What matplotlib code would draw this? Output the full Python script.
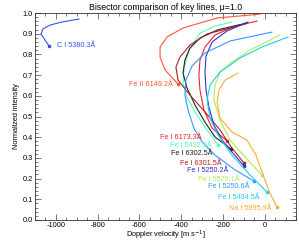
import matplotlib
matplotlib.use("Agg")
import matplotlib.pyplot as plt
from matplotlib.ticker import MultipleLocator

plt.rcParams['font.family'] = ['Liberation Sans', 'DejaVu Sans']
plt.rcParams['axes.unicode_minus'] = False

# ---- data (bisectors: from line core upward to continuum) ----
names = ["C I 5380.3Å", "Fe II 6149.2Å", "Fe I 6173.3Å", "Fe I 5432.9Å",
         "Fe I 6302.5Å", "Fe I 6301.5Å", "Fe I 5250.2Å", "Fe I 5576.1Å",
         "Fe I 5250.6Å", "Fe I 5434.5Å", "Na I 5895.9Å"]
colors = ["#3355ee", "#ff5533", "#ee2233", "#55ffbb", "#222222", "#aa2222",
          "#3333cc", "#aaee55", "#3399ff", "#22ccee", "#ffaa33"]

v_CI = [-1033, -1052, -1071, -1062, -1028, -971, -889]
i_CI = [0.841, 0.870, 0.899, 0.923, 0.942, 0.957, 0.971]

v_FeII6149 = [-415, -477, -501, -501, -468, -391, -228, -22]
i_FeII6149 = [0.657, 0.725, 0.787, 0.836, 0.884, 0.928, 0.976, 0.995]

v_Fe6173 = [-181, -252, -291, -310, -315, -310, -286, -238, -142, -37]
i_Fe6173 = [0.382, 0.444, 0.531, 0.628, 0.700, 0.773, 0.836, 0.894, 0.937, 0.961]

v_Fe5432 = [-224, -276, -334, -372, -391, -386, -362, -310, -238, -157]
i_Fe5432 = [0.362, 0.435, 0.522, 0.594, 0.662, 0.734, 0.821, 0.903, 0.937, 0.957]

v_Fe6302 = [-161, -238, -286, -334, -372, -391, -382, -358, -310, -228, -85]
i_Fe6302 = [0.343, 0.401, 0.473, 0.556, 0.638, 0.710, 0.773, 0.831, 0.879, 0.918, 0.952]

v_Fe6301 = [-99, -157, -214, -286, -358, -415, -425, -406, -358, -276, -94]
i_Fe6301 = [0.275, 0.348, 0.435, 0.522, 0.604, 0.676, 0.739, 0.787, 0.845, 0.899, 0.947]

v_Fe5250_2 = [-99, -157, -204, -243, -267, -281, -286, -281, -252, -181, -80]
i_Fe5250_2 = [0.261, 0.329, 0.386, 0.459, 0.546, 0.628, 0.715, 0.792, 0.860, 0.913, 0.957]

v_Fe5576 = [-13, -94, -166, -214, -243, -238, -214, -157, -70, 73]
i_Fe5576 = [0.217, 0.304, 0.386, 0.483, 0.580, 0.652, 0.715, 0.763, 0.821, 0.894]

v_Fe5250_6 = [-51, -142, -238, -300, -339, -367, -382, -377, -348, -286, -166, 35]
i_Fe5250_6 = [0.188, 0.242, 0.314, 0.377, 0.444, 0.531, 0.604, 0.676, 0.744, 0.807, 0.865, 0.908]

v_Fe5434 = [11, -70, -157, -224, -262, -276, -262, -214, -118, -13, 112]
i_Fe5434 = [0.135, 0.217, 0.314, 0.411, 0.493, 0.580, 0.652, 0.715, 0.783, 0.836, 0.884]

v_Na5895 = [59, 25, -13, -42, -85, -157, -214, -228, -219, -190, -128]
i_Na5895 = [0.063, 0.130, 0.232, 0.314, 0.386, 0.425, 0.493, 0.570, 0.628, 0.676, 0.710]

velocities = [v_CI, v_FeII6149, v_Fe6173, v_Fe5432, v_Fe6302, v_Fe6301,
              v_Fe5250_2, v_Fe5576, v_Fe5250_6, v_Fe5434, v_Na5895]
intensities = [i_CI, i_FeII6149, i_Fe6173, i_Fe5432, i_Fe6302, i_Fe6301,
               i_Fe5250_2, i_Fe5576, i_Fe5250_6, i_Fe5434, i_Na5895]

# label offsets from the line-core marker (pixels) and alignment
label_dx = [8, -5, -25, -6, -19, -22, -16, -22, -5, -7, -5]
label_dy = [0, 0, 3, 0, -4, 0, -5, -4, -5, -5, -2]
label_ha = ["left"] + ["right"] * 10

fig = plt.figure(figsize=(2.99, 2.42), dpi=100)
ax = fig.add_axes([0.117, 0.091, 0.873, 0.855])

for v, i, c, n, dx, dy, ha in zip(velocities, intensities, colors, names,
                                   label_dx, label_dy, label_ha):
    ax.plot(v, i, color=c, lw=0.8)
    ax.plot(v[0], i[0], marker='s', ms=2.0, color=c, mec=c)
    ax.annotate(n, (v[0], i[0]), xytext=(dx, dy), textcoords='offset pixels',
                ha=ha, va='center', color=c, fontsize=5.2)

ax.set_xlim(-1100, 150)
ax.set_ylim(0.0, 1.0)
ax.xaxis.set_major_locator(MultipleLocator(200))
ax.xaxis.set_minor_locator(MultipleLocator(50))
ax.yaxis.set_major_locator(MultipleLocator(0.1))
ax.yaxis.set_minor_locator(MultipleLocator(0.02))
ax.set_xticks([-1000, -800, -600, -400, -200, 0])
ax.tick_params(which='both', direction='in', top=True, right=True,
               labelsize=5.3, width=0.5, color='#444444', pad=1.5)
ax.tick_params(which='major', length=4)
ax.tick_params(which='minor', length=2)
ax.yaxis.set_major_formatter(matplotlib.ticker.FormatStrFormatter('%.1f'))
for s in ax.spines.values():
    s.set_linewidth(0.6)
    s.set_color('#333333')

ax.set_title("Bisector comparison of key lines, \u03bc=1.0", fontsize=6.3, pad=2)
ax.set_xlabel("Doppler velocity [m s$^{-1}$]", fontsize=5.3, labelpad=0)
ax.set_ylabel("Normalized intensity", fontsize=5.3, labelpad=2)

fig.savefig("out.png", dpi=100)
